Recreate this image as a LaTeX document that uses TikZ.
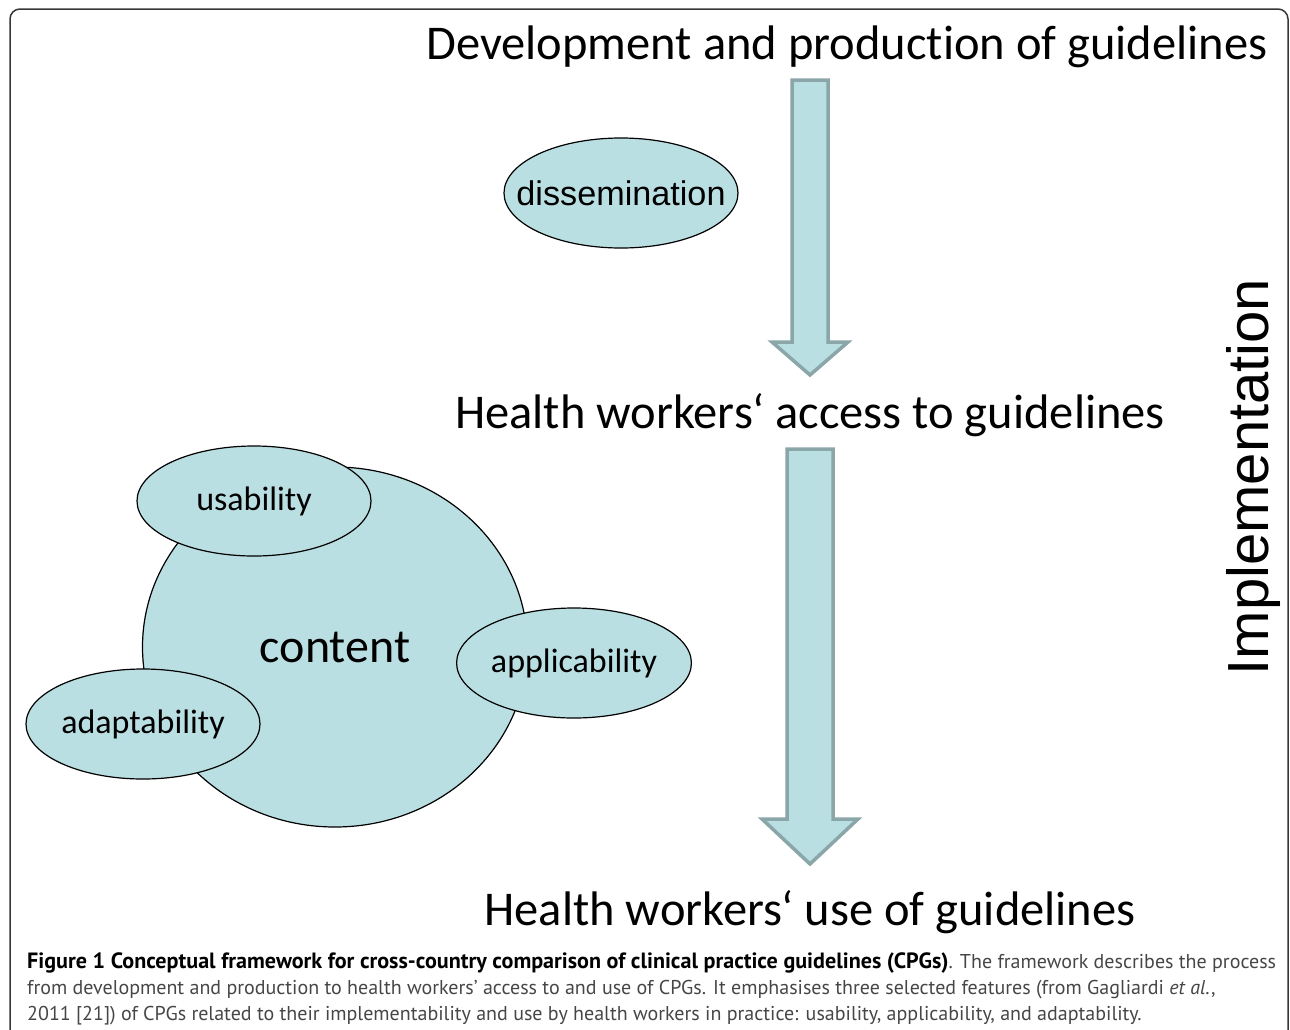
\documentclass[tikz,border=0pt]{standalone}
\usepackage{fontspec}
\setmainfont{Carlito}[Ligatures=NoCommon]
\newfontfamily\arialfont{Liberation Sans}
\newfontfamily\capfont{PT Sans}
\usetikzlibrary{shapes.geometric}
\definecolor{paleblue}{RGB}{186,223,227}
\definecolor{arrowgray}{RGB}{138,166,169}
\definecolor{framegray}{RGB}{55,55,55}
\definecolor{captext}{RGB}{70,70,70}

\begin{document}
\begin{tikzpicture}[x=1pt,y=-1pt,
    bubble/.style={ellipse, draw, line width=1.2pt, fill=paleblue, inner sep=0pt,
      minimum width=234pt, minimum height=110pt, font=\fontsize{34}{40}\selectfont},
    stage/.style={anchor=base, font=\fontsize{48.5}{54}\selectfont},
    blockarrow/.style={draw=arrowgray, fill=paleblue, line width=3.5pt, line join=miter}]
  \useasboundingbox (0,0) rectangle (1290,1029);
  \draw[framegray, line width=1.5pt, rounded corners=10pt] (10,1040) -- (10,9) -- (1288,9) -- (1288,1040);

  \node[stage] (dev) at (847,59) {Development and production of guidelines};
  \node[stage] (access) at (810,428) {Health workers‘ access to guidelines};
  \node[stage] (use) at (810,925) {Health workers‘ use of guidelines};
  \node[anchor=base, rotate=90, font=\arialfont\fontsize{58}{60}\selectfont] (impl) at (1268,477) {Implementation};

  % arrows between the stages
  \draw[blockarrow] (792,80) -- (828,80) -- (828,342) -- (848,342) -- (810,375)
    -- (772,342) -- (792,342) -- cycle;
  \draw[blockarrow] (787,449) -- (833,449) -- (833,819) -- (858,819) -- (810,864)
    -- (762,819) -- (787,819) -- cycle;

  \node[bubble, font=\arialfont\fontsize{34.2}{40}\selectfont] (dissem) at (621,193) {\makebox[120pt]{dissemination}};

  \node[ellipse, draw, line width=1.2pt, fill=paleblue, minimum width=385pt, minimum height=360pt,
    font=\fontsize{48}{50}\selectfont] (content) at (335,647) {content};
  \node[bubble] (usab) at (254,501) {usability};
  \node[bubble] (appl) at (574,663) {applicability};
  \node[bubble] (adapt) at (143,724) {adaptability};

  \node[anchor=base west, align=left, inner sep=0pt, text=captext,
    font=\capfont\fontsize{20}{26}\selectfont] (caption) at (27,1020)
    {{\color{black}\fontsize{22.1}{26}\selectfont\bfseries Figure 1 Conceptual framework for cross-country comparison of clinical practice guidelines (CPGs)}. The framework describes the process\\
     from development and production to health workers’ access to and use of CPGs. It emphasises three selected features (from Gagliardi \textit{et al}.,\\
     2011 [21]) of CPGs related to their implementability and use by health workers in practice: usability, applicability, and adaptability.};
\end{tikzpicture}
\end{document}
